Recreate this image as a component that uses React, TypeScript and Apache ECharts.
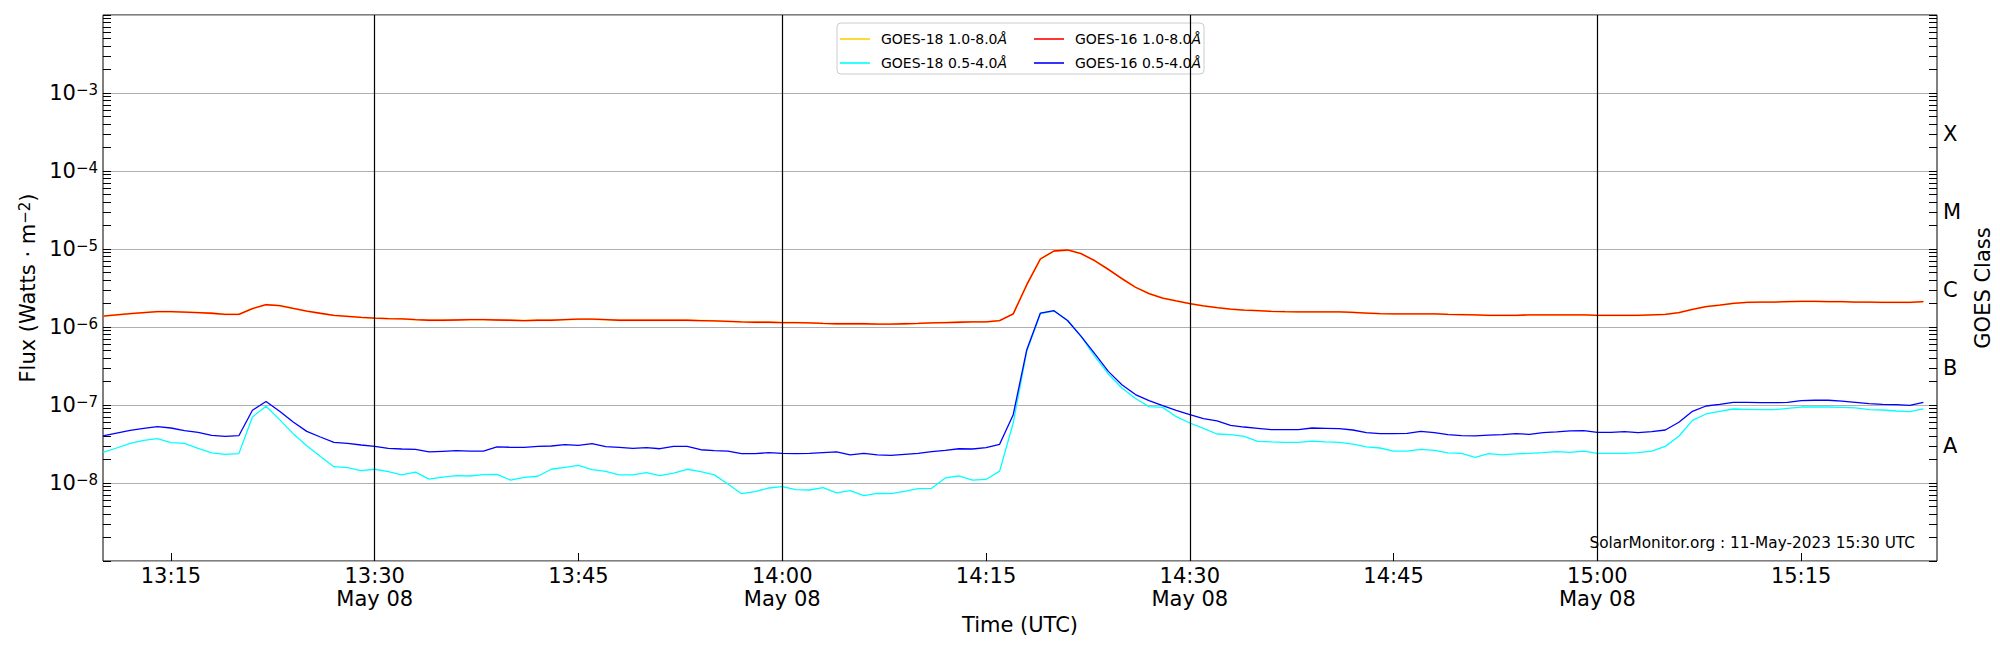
import React, { useEffect, useRef } from 'react';
import * as echarts from 'echarts';

// ---- time axis ----
const startTime = '2023-05-08T13:10:00Z';
const cadenceMinutes = 1;
const xMinTime = '13:10';
const xMaxTime = '15:25';
const xTickTimes = ['13:15', '13:30', '13:45', '14:00', '14:15', '14:30', '14:45', '15:00', '15:15'];
const dateLabel = 'May 08';
const dateLabelTimes = ['13:30', '14:00', '14:30', '15:00'];
const verticalLineTimes = ['13:30', '14:00', '14:30', '15:00'];

// ---- y axis ----
const yMin = 1e-9;
const yMax = 1e-2;
const yLabelExponents = [-8, -7, -6, -5, -4, -3];
const classLabels = ['A', 'B', 'C', 'M', 'X'];
const classLabelValues = [3e-8, 3e-7, 3e-6, 3e-5, 3e-4];

// ---- series (1-minute cadence from 13:10 UTC) ----
const LONG_UNIT = 1e-6; // W m^-2
const SHORT_UNIT = 1e-8; // W m^-2

// GOES-16 1.0-8.0 Å (x 1e-6)
const goes16Long = [
  1.38, 1.43, 1.48, 1.53, 1.57, 1.57, 1.55, 1.53, 1.50, 1.45,
  1.45, 1.72, 1.93, 1.88, 1.73, 1.60, 1.50, 1.41, 1.37, 1.33,
  1.30, 1.28, 1.27, 1.24, 1.22, 1.22, 1.23, 1.24, 1.24, 1.23,
  1.22, 1.21, 1.22, 1.22, 1.24, 1.26, 1.26, 1.24, 1.22, 1.22,
  1.22, 1.22, 1.22, 1.22, 1.21, 1.20, 1.18, 1.16, 1.15, 1.15,
  1.14, 1.14, 1.13, 1.11, 1.10, 1.10, 1.10, 1.09, 1.09, 1.10,
  1.11, 1.13, 1.14, 1.15, 1.16, 1.16, 1.21, 1.47, 3.49, 7.44,
  9.43, 9.71, 8.71, 7.08, 5.48, 4.17, 3.23, 2.68, 2.35, 2.16,
  1.99, 1.86, 1.77, 1.70, 1.65, 1.62, 1.59, 1.57, 1.56, 1.56,
  1.56, 1.56, 1.54, 1.51, 1.48, 1.47, 1.47, 1.47, 1.47, 1.45,
  1.44, 1.43, 1.41, 1.41, 1.41, 1.43, 1.43, 1.43, 1.43, 1.43,
  1.41, 1.41, 1.41, 1.41, 1.43, 1.45, 1.53, 1.68, 1.82, 1.91,
  2.01, 2.07, 2.09, 2.09, 2.11, 2.13, 2.13, 2.11, 2.11, 2.09,
  2.09, 2.07, 2.07, 2.07, 2.11,
];

// GOES-18 1.0-8.0 Å (x 1e-6) - drawn under the GOES-16 curve, read as coincident
const goes18Long = [
  1.38, 1.43, 1.48, 1.53, 1.57, 1.57, 1.55, 1.53, 1.50, 1.45,
  1.45, 1.72, 1.93, 1.88, 1.73, 1.60, 1.50, 1.41, 1.37, 1.33,
  1.30, 1.28, 1.27, 1.24, 1.22, 1.22, 1.23, 1.24, 1.24, 1.23,
  1.22, 1.21, 1.22, 1.22, 1.24, 1.26, 1.26, 1.24, 1.22, 1.22,
  1.22, 1.22, 1.22, 1.22, 1.21, 1.20, 1.18, 1.16, 1.15, 1.15,
  1.14, 1.14, 1.13, 1.11, 1.10, 1.10, 1.10, 1.09, 1.09, 1.10,
  1.11, 1.13, 1.14, 1.15, 1.16, 1.16, 1.21, 1.47, 3.49, 7.44,
  9.43, 9.71, 8.71, 7.08, 5.48, 4.17, 3.23, 2.68, 2.35, 2.16,
  1.99, 1.86, 1.77, 1.70, 1.65, 1.62, 1.59, 1.57, 1.56, 1.56,
  1.56, 1.56, 1.54, 1.51, 1.48, 1.47, 1.47, 1.47, 1.47, 1.45,
  1.44, 1.43, 1.41, 1.41, 1.41, 1.43, 1.43, 1.43, 1.43, 1.43,
  1.41, 1.41, 1.41, 1.41, 1.43, 1.45, 1.53, 1.68, 1.82, 1.91,
  2.01, 2.07, 2.09, 2.09, 2.11, 2.13, 2.13, 2.11, 2.11, 2.09,
  2.09, 2.07, 2.07, 2.07, 2.11,
];

// GOES-16 0.5-4.0 Å (x 1e-8)
const goes16Short = [
  4.01, 4.37, 4.73, 5.02, 5.27, 5.07, 4.69, 4.47, 4.08, 3.97,
  4.04, 8.55, 11.1, 8.30, 6.05, 4.59, 3.89, 3.32, 3.23, 3.07,
  2.95, 2.78, 2.73, 2.70, 2.50, 2.55, 2.60, 2.57, 2.57, 2.90,
  2.87, 2.87, 2.95, 2.98, 3.10, 3.04, 3.19, 2.92, 2.87, 2.78,
  2.84, 2.75, 2.95, 2.95, 2.67, 2.60, 2.57, 2.38, 2.38, 2.45,
  2.40, 2.38, 2.40, 2.45, 2.50, 2.29, 2.40, 2.29, 2.26, 2.33,
  2.40, 2.52, 2.62, 2.75, 2.73, 2.84, 3.13, 7.52, 51.2, 151,
  162, 121, 75.9, 45.5, 27.0, 18.2, 13.6, 11.4, 9.81, 8.55,
  7.52, 6.68, 6.24, 5.49, 5.22, 5.02, 4.83, 4.83, 4.83, 5.07,
  5.02, 4.97, 4.78, 4.42, 4.29, 4.29, 4.33, 4.59, 4.42, 4.17,
  4.04, 4.01, 4.12, 4.17, 4.29, 4.21, 4.42, 4.51, 4.65, 4.69,
  4.47, 4.47, 4.55, 4.42, 4.55, 4.78, 6.00, 8.30, 9.71, 10.2,
  10.8, 10.8, 10.7, 10.7, 10.8, 11.4, 11.5, 11.5, 11.2, 10.8,
  10.4, 10.2, 10.1, 9.91, 10.8,
];

// GOES-18 0.5-4.0 Å (x 1e-8)
const goes18Short = [
  2.47, 2.81, 3.23, 3.53, 3.70, 3.29, 3.23, 2.78, 2.43, 2.33,
  2.38, 7.02, 9.62, 6.49, 4.29, 3.01, 2.18, 1.62, 1.57, 1.44,
  1.50, 1.40, 1.27, 1.38, 1.12, 1.19, 1.24, 1.23, 1.28, 1.29,
  1.09, 1.18, 1.22, 1.50, 1.59, 1.68, 1.48, 1.41, 1.27, 1.27,
  1.36, 1.24, 1.34, 1.50, 1.40, 1.27, 0.970, 0.730, 0.774, 0.863,
  0.897, 0.822, 0.813, 0.871, 0.745, 0.798, 0.689, 0.738, 0.730, 0.782,
  0.847, 0.855, 1.16, 1.23, 1.09, 1.11, 1.42, 5.88, 49.0, 148,
  160, 121, 75.9, 42.1, 25.0, 16.5, 12.1, 9.53, 9.33, 7.08,
  5.88, 5.02, 4.25, 4.17, 3.97, 3.42, 3.36, 3.32, 3.32, 3.45,
  3.36, 3.32, 3.16, 2.90, 2.81, 2.57, 2.57, 2.70, 2.62, 2.43,
  2.40, 2.13, 2.38, 2.29, 2.36, 2.40, 2.45, 2.52, 2.47, 2.57,
  2.40, 2.40, 2.40, 2.45, 2.57, 2.95, 3.97, 6.36, 7.67, 8.30,
  8.89, 8.80, 8.71, 8.71, 9.06, 9.42, 9.42, 9.42, 9.33, 9.16,
  8.71, 8.63, 8.38, 8.22, 8.89,
];

const seriesNames = ['GOES-18 1.0-8.0Å', 'GOES-18 0.5-4.0Å', 'GOES-16 1.0-8.0Å', 'GOES-16 0.5-4.0Å'];
const seriesColors = ['#ffd000', '#00ffff', '#ff0000', '#0000ff'];
const watermark = 'SolarMonitor.org : 11-May-2023 15:30 UTC';

const FONT = 'DejaVu Sans';
const BIG = 21;

const toTs = (hhmm: string) => Date.parse(`2023-05-08T${hhmm}:00Z`);
const pad2 = (n: number) => (n < 10 ? '0' + n : '' + n);
const fmtHM = (v: number) => {
  const d = new Date(v);
  return `${pad2(d.getUTCHours())}:${pad2(d.getUTCMinutes())}`;
};

export default function App() {
  const ref = useRef<HTMLDivElement | null>(null);

  useEffect(() => {
    if (!ref.current) return;
    const chart = echarts.init(ref.current, undefined, { renderer: 'svg' });

    const t0 = Date.parse(startTime);
    const timeAt = (i: number) => t0 + i * cadenceMinutes * 60000;
    const toPairs = (arr: number[], unit: number) => arr.map((v, i) => [timeAt(i), v * unit]);

    const xTickValues = xTickTimes.map(toTs);
    const majorValues: number[] = [];
    const minorValues: number[] = [];
    for (let e = -9; e <= -2; e++) {
      majorValues.push(Math.pow(10, e));
      if (e < -2) {
        for (let k = 2; k <= 9; k++) minorValues.push(k * Math.pow(10, e));
      }
    }
    const yLabelValues = yLabelExponents.map((e) => Math.pow(10, e));

    const tickStyle = { color: '#000', width: 1 };

    const lineSeries = (name: string, data: number[][], color: string, width: number, z: number, extra: any = {}) => ({
      name,
      type: 'line',
      data,
      xAxisIndex: 0,
      yAxisIndex: 0,
      symbol: 'none',
      showSymbol: false,
      silent: true,
      z,
      lineStyle: { color, width },
      itemStyle: { color },
      ...extra,
    });

    const legendCommon = {
      orient: 'vertical',
      top: 30,
      icon: 'rect',
      itemWidth: 30,
      itemHeight: 1.6,
      itemGap: 6,
      padding: 0,
      selectedMode: false,
      z: 4,
      formatter: (name: string) => `${name.slice(0, -1)}{i|Å}`,
      textStyle: {
        fontSize: 14,
        lineHeight: 18,
        color: '#000',
        fontFamily: FONT,
        padding: [0, 0, 0, 6],
        rich: {
          i: { fontStyle: 'italic', fontSize: 14, lineHeight: 18, fontFamily: FONT, color: '#000' },
        },
      },
    };

    const option: any = {
      animation: false,
      backgroundColor: '#fff',
      textStyle: { fontFamily: FONT },
      grid: {
        left: 103,
        top: 15,
        width: 1834,
        height: 546,
        show: true,
        borderColor: '#000',
        borderWidth: 1,
        backgroundColor: 'transparent',
        containLabel: false,
        outerBoundsMode: 'none',
      },
      legend: [
        { ...legendCommon, left: 840, data: [seriesNames[0], seriesNames[1]] },
        { ...legendCommon, left: 1034, data: [seriesNames[2], seriesNames[3]] },
      ],
      graphic: [
        {
          type: 'rect',
          z: 3,
          shape: { x: 837, y: 23, width: 367, height: 51, r: 4 },
          style: { fill: 'rgba(255,255,255,0.8)', stroke: '#cccccc', lineWidth: 1 },
        },
        {
          type: 'text',
          z: 6,
          x: 1915,
          y: 543,
          style: {
            text: watermark,
            fontSize: 15.3,
            fontFamily: FONT,
            fill: '#000',
            align: 'right',
            verticalAlign: 'middle',
          },
        },
      ],
      xAxis: [
        {
          type: 'value',
          min: toTs(xMinTime),
          max: toTs(xMaxTime),
          axisLine: { show: false },
          axisTick: { show: true, inside: true, length: 8, customValues: xTickValues, lineStyle: tickStyle },
          axisLabel: {
            customValues: xTickValues,
            formatter: (v: number) => {
              const hm = fmtHM(v);
              return dateLabelTimes.indexOf(hm) >= 0 ? `${hm}\n${dateLabel}` : hm;
            },
            fontSize: BIG,
            lineHeight: 23,
            color: '#000',
            margin: 3,
            fontFamily: FONT,
          },
          splitLine: { show: false },
          name: 'Time (UTC)',
          nameLocation: 'middle',
          nameGap: 52,
          nameTextStyle: { fontSize: BIG, color: '#000', fontFamily: FONT },
        },
      ],
      yAxis: [
        {
          type: 'log',
          logBase: 10,
          min: yMin,
          max: yMax,
          position: 'left',
          axisLine: { show: false },
          axisTick: { show: true, inside: true, length: 8, lineStyle: tickStyle },
          axisLabel: {
            customValues: yLabelValues,
            margin: 5,
            color: '#000',
            fontFamily: FONT,
            formatter: (v: number) => {
              const e = Math.round(Math.log10(v));
              return `{b|10}{s|${e < 0 ? '\u2212' + -e : '' + e}}`;
            },
            rich: {
              b: { fontSize: BIG, lineHeight: 21, fontFamily: FONT, color: '#000' },
              s: { fontSize: 15, lineHeight: 10, verticalAlign: 'top', fontFamily: FONT, color: '#000' },
            },
          },
          splitLine: { show: true, lineStyle: { color: '#b0b0b0', width: 1 } },
          name: 'Flux (Watts · m{s|\u22122})',
          nameLocation: 'middle',
          nameRotate: 90,
          nameGap: 63,
          nameTextStyle: {
            fontSize: BIG,
            lineHeight: 21,
            color: '#000',
            fontFamily: FONT,
            rich: {
              s: { fontSize: 15, lineHeight: 10, verticalAlign: 'top', fontFamily: FONT, color: '#000' },
            },
          },
        },
        {
          type: 'log',
          logBase: 10,
          min: yMin,
          max: yMax,
          position: 'left',
          axisLine: { show: false },
          axisTick: { show: true, inside: true, length: 8, customValues: minorValues, lineStyle: tickStyle },
          axisLabel: { show: false },
          splitLine: { show: false },
        },
        {
          type: 'log',
          logBase: 10,
          min: yMin,
          max: yMax,
          position: 'right',
          axisLine: { show: false },
          axisTick: {
            show: true,
            inside: true,
            length: 8,
            customValues: majorValues.concat(minorValues),
            lineStyle: tickStyle,
          },
          axisLabel: {
            customValues: classLabelValues,
            margin: 6,
            fontSize: BIG,
            color: '#000',
            fontFamily: FONT,
            formatter: (v: number) => {
              let best = 0;
              let bestD = Infinity;
              classLabelValues.forEach((c, i) => {
                const d = Math.abs(Math.log10(c) - Math.log10(v));
                if (d < bestD) {
                  bestD = d;
                  best = i;
                }
              });
              return classLabels[best];
            },
          },
          splitLine: { show: false },
          name: 'GOES Class',
          nameLocation: 'middle',
          nameRotate: 90,
          nameGap: 14,
          nameTextStyle: { fontSize: BIG, color: '#000', fontFamily: FONT },
        },
      ],
      series: [
        lineSeries(seriesNames[0], toPairs(goes18Long, LONG_UNIT), seriesColors[0], 1.8, 2, {
          markLine: {
            silent: true,
            z: 10,
            symbol: ['none', 'none'],
            label: { show: false },
            emphasis: { disabled: true },
            lineStyle: { color: '#000', width: 1.2, type: 'solid' },
            data: verticalLineTimes.map((t) => ({ xAxis: toTs(t) })),
          },
        }),
        lineSeries(seriesNames[1], toPairs(goes18Short, SHORT_UNIT), seriesColors[1], 1.3, 3),
        lineSeries(seriesNames[2], toPairs(goes16Long, LONG_UNIT), seriesColors[2], 1.3, 4),
        lineSeries(seriesNames[3], toPairs(goes16Short, SHORT_UNIT), seriesColors[3], 1.3, 5),
      ],
    };

    chart.setOption(option);
    return () => {
      chart.dispose();
    };
  }, []);

  return (
    <div
      ref={ref}
      style={{ position: 'absolute', left: 0, top: 0, width: 2000, height: 650, background: '#fff' }}
    />
  );
}
